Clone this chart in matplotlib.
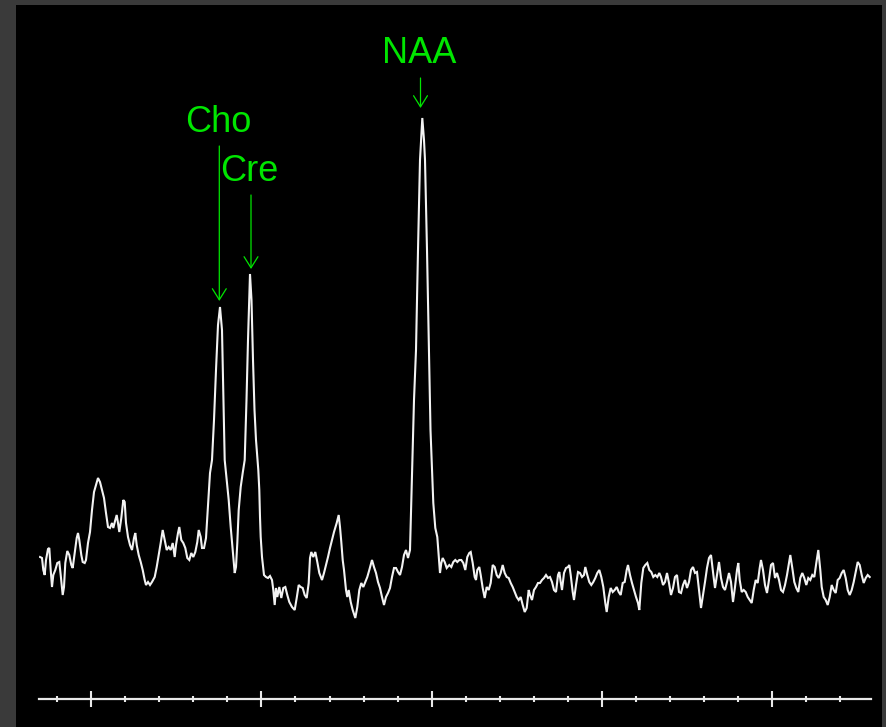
import numpy as np
import matplotlib
matplotlib.use("Agg")
import matplotlib.pyplot as plt
from matplotlib.patches import Rectangle, FancyArrowPatch
from matplotlib.ticker import MultipleLocator

# spectrum: channel position and intensity (arb. units)
left_ch = [40, 42, 43.3, 44.7, 46, 48, 49.3, 50.7, 52, 53.3, 55.3, 57.3, 59.3, 60.7, 62.7, 64,
           65.3, 67.3, 69.3, 71.3, 72.7, 74.7, 76.7, 78, 79.3, 81.3, 82.7, 84.7, 86, 88, 90, 92,
           94, 96, 98, 100, 102, 104, 106, 108, 110, 112, 113.3, 115.3, 116.7, 118, 119.3, 121.3,
           123.3, 124.7, 126, 128, 130, 132, 134, 135.3, 136.7, 138.7, 140.7, 142.7, 144.7, 146,
           148, 150, 152, 154.7, 156.7, 158.7, 160.7, 162.7, 164.7, 166.7, 168.7, 170.7, 172.7,
           174.7, 176, 178, 179.3, 181.3, 183.3, 185.3, 187.3, 189.3, 191.3, 193.3, 195.3, 197.3,
           198.7, 200.7, 202, 204, 206, 207.3, 208.7, 210]
left_int = [142, 141, 129, 124, 139, 150, 151, 129, 112, 124, 129, 136, 137, 124, 104, 112,
            136, 148, 144, 134, 131, 146, 161, 166, 159, 144, 137, 136, 139, 156, 167, 189,
            207, 214, 221, 217, 209, 201, 186, 172, 171, 176, 171, 179, 184, 176, 167, 181,
            199, 197, 176, 162, 154, 149, 161, 166, 154, 144, 137, 129, 119, 114,
            117, 114, 117, 122, 132, 144, 156, 169, 159, 149, 152, 149, 156,
            142, 154, 166, 172, 159, 156, 151, 141, 139, 146, 142, 147, 157,
            169, 162, 151, 151, 161, 182, 206, 226]

# Cho and Cre peaks
chocre_ch = [212, 214, 216, 218, 220, 222, 223, 224, 224.7, 226.7, 228.7, 230.7, 232.7, 234.7,
             236, 237.3, 238.7, 240.7, 242.7, 244.7, 246.5, 248, 249.2, 250, 251.5, 253, 254.5,
             256, 258.3, 259.3, 260, 260.7, 262]
chocre_int = [239, 279, 329, 374, 392, 369, 319, 269, 239, 219, 199, 172, 149, 126,
              132, 156, 189, 212, 226, 239, 299, 359, 399, 425, 399, 339, 289,
              259, 229, 209, 182, 162, 142]

mid_ch = [264, 266, 268, 270, 272, 273.3, 274.7, 276, 277.3, 279.3, 281.3, 283.3, 285.3, 287.3,
          289.3, 292, 294.7, 296.7, 298.7, 300.7, 302.7, 304.7, 306.7, 308.7, 310, 311.3, 313.3,
          315.3, 317.3, 319.3, 322, 324, 326, 328, 330, 332, 334, 336.7, 338.7, 340, 341.3,
          342.7, 344, 346, 347.3, 348.7, 350.7, 352.7, 355.3, 357.3, 359.3, 361.3, 363.3,
          365.3, 367.3, 369.3, 372, 374, 376, 378, 380, 382, 384, 386, 388, 390, 392, 394,
          396, 398, 400, 402, 404, 406, 408, 410, 410.7]
mid_int = [124, 122, 121, 123, 119, 109, 94, 111, 102, 112, 101, 111, 112, 104,
           97, 92, 89, 101, 114, 112, 111, 104, 101, 116, 141, 147, 142,
           147, 137, 126, 119, 126, 134, 142, 151, 159, 167, 176, 184, 172, 157,
           139, 129, 109, 102, 109, 97, 89, 81, 92, 109, 116, 112,
           117, 122, 129, 139, 132, 126, 117, 111, 102, 94, 102, 106, 111, 122, 131,
           131, 127, 124, 132, 144, 149, 141, 149, 176]

# NAA peak
naa_ch = [411.3, 412.5, 414, 416, 418, 420, 422.3, 424, 425, 427, 429, 430.5, 432, 433.3,
          435.3, 437.3, 438.7, 440, 441.3, 442.7, 444.7, 446.7]
naa_int = [202, 249, 299, 349, 449, 539, 581, 559, 539, 449, 349, 269, 229, 196,
           171, 162, 144, 126, 136, 141, 137, 131]

right_ch = [449.3, 451.3, 453.3, 455.3, 457.3, 459.3, 461.3, 463.3, 465.3, 467.3, 469.3, 470.7,
            472.7, 474.7, 476, 477.3, 479.3, 480.7, 482.7, 484.7, 486.7, 488.7, 490.7, 492.7,
            494.7, 496.7, 498.7, 500.7, 502.7, 504.7, 506.7, 508.7, 510.7, 512.7, 514.7, 516.7,
            518.7, 520.7, 522.7, 524.7, 526.7, 528.7, 530, 532, 534, 536, 538, 540, 542, 544,
            546, 548, 550, 552, 554, 556, 558, 559.3, 560.7, 562, 564, 566, 568, 569.3, 570.7,
            572.7, 574, 576, 578, 580, 582, 584, 585.3, 587.3, 589.3, 591.3, 593.3, 595.3,
            597.3, 599.3, 601.3, 603.3, 605.3, 606.7, 608.7, 610.7, 612.7, 614.7, 616.7, 618.7,
            620.7, 622.7, 624.7, 626.7, 628, 630, 632, 634, 636, 638, 639.3, 641.3, 643.3,
            645.3, 647.3, 649.3, 651.3, 653.3, 655.3, 657.3, 659.3,
            661, 663, 665, 667, 669, 671, 673, 675, 677, 679, 681, 683, 685, 687, 689, 691,
            693, 695, 697, 699, 701, 703, 705, 707, 709, 711, 713, 715, 717, 719, 721, 723,
            725, 727, 729, 731, 733, 735, 737, 738.3, 739.7, 741.7, 743.7, 745.7, 747.7, 749.7,
            751.7, 753.7, 755.7, 757.7, 759.7, 761, 763, 765, 767, 769, 771, 773, 775, 777,
            779, 781, 783, 785, 787, 789, 790.3, 792.3, 794.3, 796.3, 798.3, 800.3, 802.3,
            804.3, 806.3, 808.3, 810.3, 812.3, 814.3, 816.3, 818.3, 820.3, 821.7, 823.7, 825.7,
            827.7, 829.7, 831.7, 833.7, 835.7, 837.7, 839.7, 841.7, 843.7, 845.7, 847.7, 849.7,
            851.7, 853.7, 855.7, 857.7, 859.7, 861.7, 863.7, 865.7, 867.7, 869.7]
right_int = [134, 132, 137, 139, 137, 139, 139, 136, 129, 142, 146, 147,
             136, 122, 119, 129, 132, 124, 111, 101, 112, 109, 116, 134,
             132, 124, 121, 126, 134, 126, 122, 121, 116, 112, 107, 102,
             99, 102, 94, 87, 91, 109, 104, 99, 109, 112, 116, 116, 119, 121,
             124, 121, 122, 117, 109, 107, 124, 127, 117, 109, 126, 131, 132, 134, 124,
             107, 99, 114, 127, 126, 122, 124, 132, 124, 117, 114, 117, 121,
             126, 129, 122, 112, 96, 87, 102, 111, 107, 109, 112, 107,
             104, 116, 117, 129, 134, 124, 116, 109, 102, 96, 89, 116, 131,
             134, 136, 129, 127, 122, 124, 122, 126,
             122, 114, 117, 126, 116, 104, 111, 122, 124, 107, 106, 114, 119, 111, 117, 129,
             132, 126, 127, 109, 91, 104, 117, 131, 141, 144, 127, 111, 124, 137, 121, 112,
             109, 117, 126, 117, 97, 112, 129, 136, 119, 107, 109, 107, 102, 99,
             96, 109, 119, 116, 131, 139, 129, 114, 106, 119, 134, 136, 121, 126,
             119, 109, 107, 114, 124, 136, 144, 131, 117, 111, 107, 121, 126,
             121, 114, 121, 119, 124, 122, 136, 149, 129, 112, 102, 99,
             94, 102, 114, 109, 106, 119, 121, 126, 129, 121, 109, 104,
             109, 117, 127, 137, 134, 124, 116, 121, 124, 122]

# channel -> ppm calibration
ch_zero_ppm = 772.3
ch_per_ppm = 170.3
axis_ch = [39, 871]

# metabolite labels: name, peak channel, arrow start / end intensity
labels = ["Cho", "Cre", "NAA"]
label_ch = [219.3, 251, 420.5]
arrow_top = [553, 504, 621]
arrow_tip = [398, 430, 591]
text_ch = [185, 220, 382]
text_int = [567, 518, 636]


def to_ppm(ch):
    return (ch_zero_ppm - np.asarray(ch, dtype=float)) / ch_per_ppm


def main():
    ch = np.concatenate([left_ch, chocre_ch, mid_ch, naa_ch, right_ch])
    inten = np.concatenate([left_int, chocre_int, mid_int, naa_int, right_int])
    ppm = to_ppm(ch)

    W, H = 887, 727
    fig = plt.figure(figsize=(W / 100, H / 100), dpi=100, facecolor="#3a3a3a")
    # black panel behind the spectrum
    bg = fig.add_axes([16 / W, 0, 866 / W, 722 / H], zorder=-10)
    bg.set_facecolor("black")
    bg.set_xticks([])
    bg.set_yticks([])
    for s in bg.spines.values():
        s.set_visible(False)

    ax = fig.add_axes([39 / W, 28 / H, 832 / W, 694 / H], zorder=1)
    ax.patch.set_visible(False)
    ax.plot(ppm, inten, color="#f2f2f2", lw=1.5, solid_joinstyle="miter")

    xl = to_ppm(axis_ch)
    ax.set_xlim(xl[0], xl[1])
    ax.set_ylim(0, 694)

    for s in ["top", "left", "right"]:
        ax.spines[s].set_visible(False)
    ax.spines["bottom"].set_color("#e8e8e8")
    ax.spines["bottom"].set_linewidth(1.6)
    ax.xaxis.set_major_locator(MultipleLocator(1))
    ax.xaxis.set_minor_locator(MultipleLocator(0.2))
    ax.tick_params(axis="x", which="major", direction="inout", length=11, width=1.5,
                   color="#e8e8e8", labelbottom=False)
    ax.tick_params(axis="x", which="minor", direction="inout", length=4, width=1.5,
                   color="#e8e8e8")
    ax.set_yticks([])

    green = "#00e600"
    for name, lc, top, tip, tc, ti in zip(labels, label_ch, arrow_top, arrow_tip, text_ch, text_int):
        x = to_ppm(lc)
        ax.add_patch(FancyArrowPatch((x, top), (x, tip), arrowstyle="->,head_length=0.8,head_width=0.5",
                                     mutation_scale=10, color=green, lw=0.9, shrinkA=0, shrinkB=0))
        ax.text(to_ppm(tc), ti, name, color=green, fontsize=26, family=["Liberation Sans", "DejaVu Sans"],
                ha="left", va="baseline")

    fig.savefig("out.png", dpi=100, facecolor=fig.get_facecolor())


if __name__ == "__main__":
    main()
